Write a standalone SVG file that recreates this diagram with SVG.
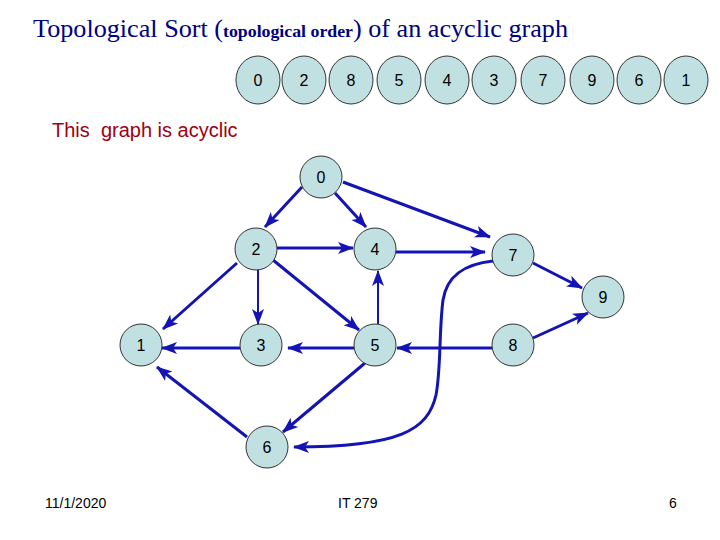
<svg xmlns="http://www.w3.org/2000/svg" width="720" height="540" viewBox="0 0 720 540">
<defs>
<style>
.nd{fill:#c0e0e2;stroke:#333;stroke-width:1}
.lb{font-family:"Liberation Sans",Arial,sans-serif;font-size:16px;fill:#000;text-anchor:middle}
.e{stroke:#1414b4;stroke-width:3;fill:none;marker-end:url(#ah)}
.t{stroke-width:2}
.ft{font-family:"Liberation Sans",Arial,sans-serif;font-size:14px;fill:#000}
</style>
<marker id="ah" markerUnits="userSpaceOnUse" markerWidth="16" markerHeight="14" viewBox="0 0 16 14" refX="15" refY="7" orient="auto">
<path d="M0,1 L16,7 L0,13 L4,7 z" fill="#1414b4"/>
</marker>
</defs>
<rect width="720" height="540" fill="#fff"/>
<text x="33" y="37" font-family="Liberation Serif,'Times New Roman',serif" font-size="25" fill="#000080" textLength="535" lengthAdjust="spacingAndGlyphs">Topological Sort (<tspan font-size="17" font-weight="bold">topological order</tspan>) of an acyclic graph</text>
<g id="order">
<g id="o0"><ellipse class="nd" cx="258" cy="80" rx="22" ry="24"/><text class="lb" x="258" y="86">0</text></g>
<g id="o2"><ellipse class="nd" cx="304" cy="80" rx="22" ry="24"/><text class="lb" x="304" y="86">2</text></g>
<g id="o8"><ellipse class="nd" cx="351" cy="80" rx="22" ry="24"/><text class="lb" x="351" y="86">8</text></g>
<g id="o5"><ellipse class="nd" cx="399" cy="80" rx="22" ry="24"/><text class="lb" x="399" y="86">5</text></g>
<g id="o4"><ellipse class="nd" cx="447" cy="80" rx="22" ry="24"/><text class="lb" x="447" y="86">4</text></g>
<g id="o3"><ellipse class="nd" cx="494" cy="80" rx="22" ry="24"/><text class="lb" x="494" y="86">3</text></g>
<g id="o7"><ellipse class="nd" cx="543" cy="80" rx="22" ry="24"/><text class="lb" x="543" y="86">7</text></g>
<g id="o9"><ellipse class="nd" cx="592" cy="80" rx="22" ry="24"/><text class="lb" x="592" y="86">9</text></g>
<g id="o6"><ellipse class="nd" cx="639" cy="80" rx="22" ry="24"/><text class="lb" x="639" y="86">6</text></g>
<g id="o1"><ellipse class="nd" cx="686" cy="80" rx="22" ry="24"/><text class="lb" x="686" y="86">1</text></g>
</g>
<text x="52" y="137" font-family="Liberation Sans,Arial,sans-serif" font-size="20" fill="#a00010" xml:space="preserve">This  graph is acyclic</text>
<g id="edges">
<line class="e" x1="302" y1="187" x2="265" y2="227"/>
<line class="e" x1="335" y1="193" x2="366" y2="227"/>
<line class="e" x1="343" y1="182" x2="490" y2="237"/>
<line class="e" x1="277" y1="248" x2="353" y2="248"/>
<line class="e" x1="396" y1="252" x2="485" y2="252"/>
<line class="e t" x1="378" y1="324" x2="378" y2="271"/>
<line class="e" x1="237" y1="263" x2="163" y2="329"/>
<line class="e t" x1="258" y1="270" x2="258" y2="324"/>
<line class="e" x1="273" y1="260" x2="359" y2="330"/>
<line class="e" x1="240" y1="348" x2="162" y2="348"/>
<line class="e" x1="354" y1="348" x2="288" y2="348"/>
<line class="e" x1="493" y1="348" x2="397" y2="348"/>
<line class="e" x1="365" y1="363" x2="283" y2="432"/>
<line class="e" x1="247" y1="437" x2="157" y2="367"/>
<line class="e" x1="533" y1="263" x2="582" y2="288"/>
<line class="e" x1="533" y1="338" x2="588" y2="313"/>
<path class="e" d="M493,261 C465,264 447,275 443,300 C439,330 441,370 436,395 C428,430 400,447 294,447"/>
</g>
<g id="n0"><circle class="nd" cx="321" cy="177" r="21"/><text class="lb" x="321" y="183">0</text></g>
<g id="n2"><circle class="nd" cx="256" cy="249" r="21"/><text class="lb" x="256" y="255">2</text></g>
<g id="n4"><circle class="nd" cx="375" cy="249" r="21"/><text class="lb" x="375" y="255">4</text></g>
<g id="n7"><circle class="nd" cx="513" cy="255" r="21"/><text class="lb" x="513" y="261">7</text></g>
<g id="n9"><circle class="nd" cx="603" cy="297" r="21"/><text class="lb" x="603" y="303">9</text></g>
<g id="n1"><circle class="nd" cx="141" cy="345" r="21"/><text class="lb" x="141" y="351">1</text></g>
<g id="n3"><circle class="nd" cx="261" cy="345" r="21"/><text class="lb" x="261" y="351">3</text></g>
<g id="n5"><circle class="nd" cx="375" cy="345" r="21"/><text class="lb" x="375" y="351">5</text></g>
<g id="n8"><circle class="nd" cx="513" cy="345" r="21"/><text class="lb" x="513" y="351">8</text></g>
<g id="n6"><circle class="nd" cx="267" cy="447" r="21"/><text class="lb" x="267" y="453">6</text></g>
<text class="ft" x="45" y="508">11/1/2020</text>
<text class="ft" x="338" y="508">IT 279</text>
<text class="ft" x="669" y="508">6</text>
</svg>
